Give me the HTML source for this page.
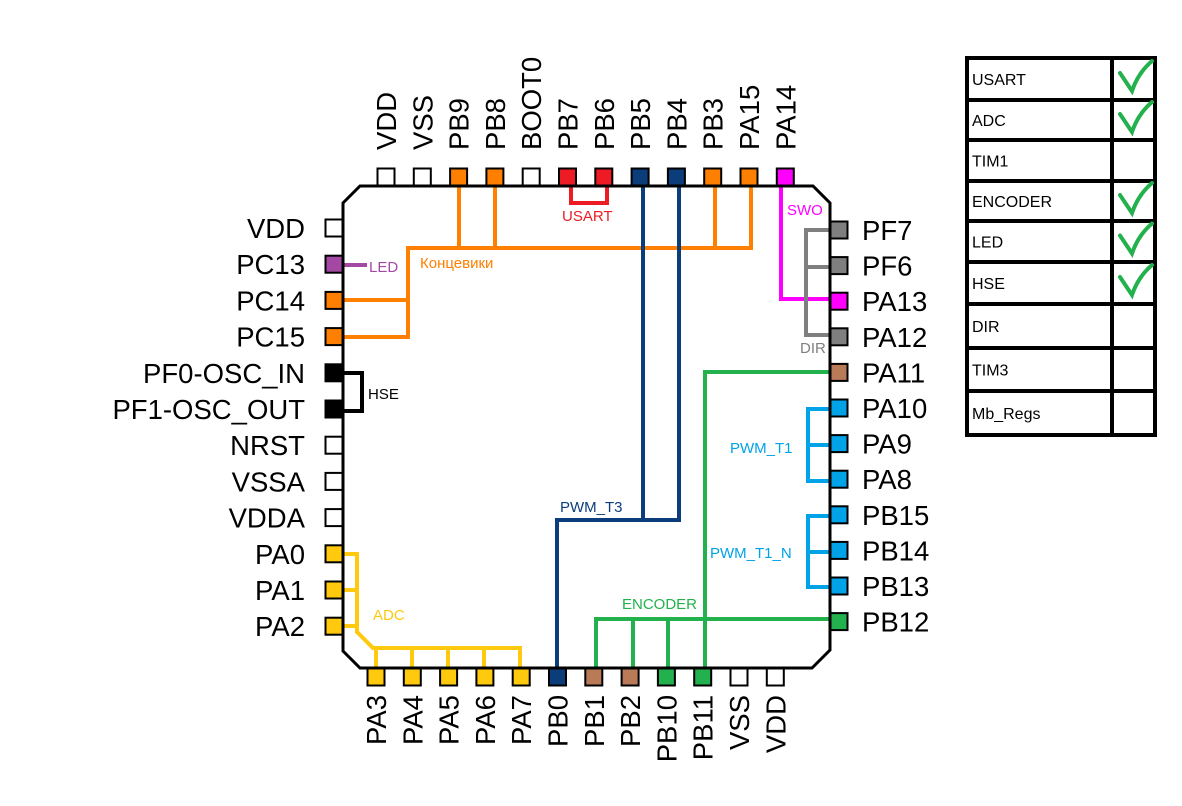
<!DOCTYPE html>
<html><head><meta charset="utf-8"><style>
body{margin:0;background:#fff}
svg{display:block;font-family:"Liberation Sans",sans-serif}
</style></head><body>
<svg id="s" width="1182" height="806" viewBox="0 0 1182 806">
<g id="wires" fill="none" stroke-width="4" stroke-linejoin="miter">
 <polyline stroke="#ff7f00" points="459,186 459,248"/>
 <polyline stroke="#ff7f00" points="495,186 495,248"/>
 <polyline stroke="#ff7f00" points="715,186 715,248"/>
 <polyline stroke="#ff7f00" points="751,186 751,248 408,248 408,337 343,337"/>
 <polyline stroke="#ff7f00" points="343,300 408,300"/>
 <polyline stroke="#a349a4" points="343,265 367,265"/>
 <polyline stroke="#ed1c24" points="571,186 571,203 607,203 607,186"/>
 <polyline stroke="#0b3d7a" points="643,186 643,520"/>
 <polyline stroke="#0b3d7a" points="679,186 679,520 557,520 557,668"/>
 <polyline stroke="#ff00ff" points="781,186 781,299 830,299"/>
 <polyline stroke="#7f7f7f" points="830,230 806,230 806,335 830,335"/>
 <polyline stroke="#7f7f7f" points="806,267 830,267"/>
 <polyline stroke="#22b14c" points="830,372 705,372 705,668"/>
 <polyline stroke="#22b14c" points="830,619 596,619 596,668"/>
 <polyline stroke="#22b14c" points="633,619 633,668"/>
 <polyline stroke="#22b14c" points="668,619 668,668"/>
 <polyline stroke="#000" points="343,373 362,373 362,411 343,411"/>
 <polyline stroke="#00a2e8" points="830,409 808,409 808,481 830,481"/>
 <polyline stroke="#00a2e8" points="808,445 830,445"/>
 <polyline stroke="#00a2e8" points="830,516 808,516 808,587 830,587"/>
 <polyline stroke="#00a2e8" points="808,552 830,552"/>
 <polyline stroke="#ffc90e" points="343,554 357,554 357,632 373,648 520,648 520,668"/>
 <polyline stroke="#ffc90e" points="343,590 357,590"/>
 <polyline stroke="#ffc90e" points="343,626 357,626"/>
 <polyline stroke="#ffc90e" points="376,648 376,668"/>
 <polyline stroke="#ffc90e" points="412,648 412,668"/>
 <polyline stroke="#ffc90e" points="448,648 448,668"/>
 <polyline stroke="#ffc90e" points="484,648 484,668"/>
</g>
<polygon points="360,186 813,186 830,203 830,650 812,668 360,668 343,651 343,203" fill="none" stroke="#000" stroke-width="3"/>
<g id="pins"></g>
<g font-size="15">
 <text x="420" y="268" fill="#ff7f00">Концевики</text>
 <text x="369" y="272" fill="#a349a4">LED</text>
 <text x="562" y="221" fill="#ed1c24">USART</text>
 <text x="787" y="215" fill="#ff00ff">SWO</text>
 <text x="800" y="353" fill="#7f7f7f">DIR</text>
 <text x="368" y="399" fill="#000">HSE</text>
 <text x="730" y="453" fill="#00a2e8">PWM_T1</text>
 <text x="710" y="558" fill="#00a2e8">PWM_T1_N</text>
 <text x="560" y="512" fill="#0b3d7a">PWM_T3</text>
 <text x="622" y="609" fill="#22b14c">ENCODER</text>
 <text x="373" y="620" fill="#ffc90e">ADC</text>
</g>
<g id="table"></g>
</svg>
<script>
const NS="http://www.w3.org/2000/svg";
const topPins=["VDD","VSS","PB9","PB8","BOOT0","PB7","PB6","PB5","PB4","PB3","PA15","PA14"];
const topFill=["#fff","#fff","#ff7f00","#ff7f00","#fff","#ed1c24","#ed1c24","#0b3d7a","#0b3d7a","#ff7f00","#ff7f00","#ff00ff"];
const leftPins=["VDD","PC13","PC14","PC15","PF0-OSC_IN","PF1-OSC_OUT","NRST","VSSA","VDDA","PA0","PA1","PA2"];
const leftFill=["#fff","#a349a4","#ff7f00","#ff7f00","#000","#000","#fff","#fff","#fff","#ffc90e","#ffc90e","#ffc90e"];
const rightPins=["PF7","PF6","PA13","PA12","PA11","PA10","PA9","PA8","PB15","PB14","PB13","PB12"];
const rightFill=["#7f7f7f","#7f7f7f","#ff00ff","#7f7f7f","#b97a57","#00a2e8","#00a2e8","#00a2e8","#00a2e8","#00a2e8","#00a2e8","#22b14c"];
const bottomPins=["PA3","PA4","PA5","PA6","PA7","PB0","PB1","PB2","PB10","PB11","VSS","VDD"];
const bottomFill=["#ffc90e","#ffc90e","#ffc90e","#ffc90e","#ffc90e","#0b3d7a","#b97a57","#b97a57","#22b14c","#22b14c","#fff","#fff"];
const features=["USART","ADC","TIM1","ENCODER","LED","HSE","DIR","TIM3","Mb_Regs"];
const checked=[1,1,0,1,1,1,0,0,0];
const rowLines=[58,100,140,181,221,262,304,348,391,435];

const pins=document.getElementById('pins');
function mk(tag,attrs,parent){const e=document.createElementNS(NS,tag);for(const k in attrs)e.setAttribute(k,attrs[k]);parent.appendChild(e);return e;}
function pin(x,y,fill,name){
 const r=mk('rect',{x:x-8.5,y:y-8.5,width:17,height:17,fill:fill,stroke:'#000','stroke-width':2},pins);
 
 
}
function label(x,y,txt,anchor,rot){
 const t=mk('text',{x:x,y:y,'font-size':27.5,'text-anchor':anchor},pins);
 if(rot)t.setAttribute('transform','rotate(-90 '+x+' '+y+')');
 t.textContent=txt;
 
 
}
topPins.forEach((n,i)=>{const x=386+i*36.3;pin(x,177,topFill[i],n);label(x+10,150,n,'start',true);});
leftPins.forEach((n,i)=>{const y=228+i*36.2;pin(334,y,leftFill[i],n);label(305,y+10,n,'end',false);});
rightPins.forEach((n,i)=>{const y=230+i*35.6;pin(839,y,rightFill[i],n);label(862,y+10,n,'start',false);});
bottomPins.forEach((n,i)=>{const x=376+i*36.3;pin(x,677,bottomFill[i],n);label(x+10,695,n,'end',true);});

const tb=document.getElementById('table');
rowLines.forEach((y)=>{const l=mk('line',{x1:965,x2:1157,y1:y,y2:y,stroke:'#000','stroke-width':4},tb);
 
 });
[967,1112,1155].forEach(x=>{const l=mk('line',{x1:x,x2:x,y1:56,y2:437,stroke:'#000','stroke-width':4},tb);
 
 });
features.forEach((f,i)=>{
 const y0=rowLines[i],y1=rowLines[i+1],ym=(y0+y1)/2;
 const t=mk('text',{x:972,y:ym+6,'font-size':16},tb);t.textContent=f;
 
 
 if(checked[i]){
  const p=mk('path',{d:'M1120 '+(ym-6)+' L1132 '+(ym+12)+' Q1138 '+(ym-6)+' 1152 '+(ym-18),fill:'none',stroke:'#22b14c','stroke-width':4,'stroke-linecap':'round'},tb);
  
  
 }
});
</script>
</body></html>
